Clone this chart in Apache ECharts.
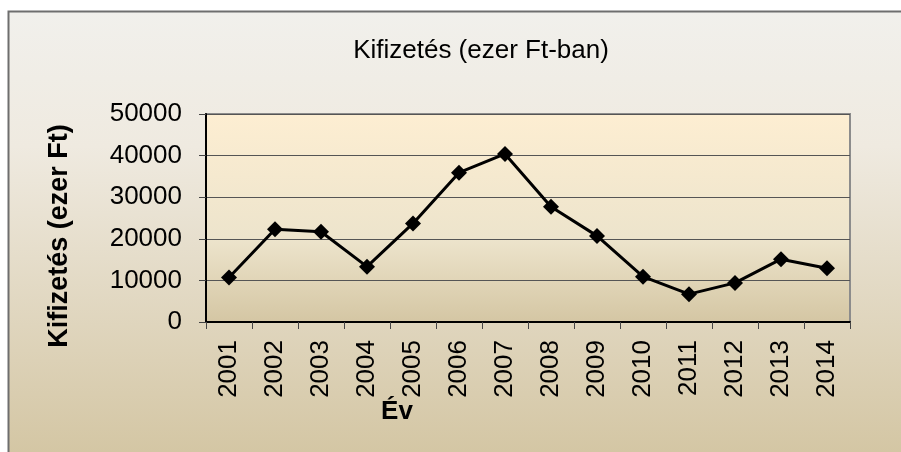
<!DOCTYPE html>
<html>
<head>
<meta charset="utf-8">
<style>html,body{margin:0;padding:0;background:#fff;}</style>
</head>
<body>
<div id="main" style="width:901px;height:452px;"></div>
<script src="https://cdn.jsdelivr.net/npm/echarts@6/dist/echarts.min.js"></script>
<script type="text/javascript">
    var years = ['2001', '2002', '2003', '2004', '2005', '2006', '2007', '2008', '2009', '2010', '2011', '2012', '2013', '2014'];
    var payments = [10700, 22300, 21700, 13300, 23700, 35900, 40400, 27700, 20700, 10900, 6700, 9400, 15100, 12900];
    var yTicks = [0, 10000, 20000, 30000, 40000, 50000];

    var myChart = echarts.init(document.getElementById('main'));

    var font = '"Liberation Sans", Arial, sans-serif';

    var option = {
        backgroundColor: '#fff',
        animation: false,
        textStyle: { fontFamily: font },
        graphic: [{
            type: 'rect',
            z: -10,
            shape: { x: 8.5, y: 11.5, width: 900, height: 450 },
            style: {
                fill: new echarts.graphic.LinearGradient(0, 0, 0, 1, [
                    { offset: 0, color: '#f1f0ec' },
                    { offset: 0.3, color: '#efeae0' },
                    { offset: 1, color: '#d3c5a2' }
                ]),
                stroke: '#6e6e6e',
                lineWidth: 2
            }
        }, {
            type: 'text',
            x: 397,
            y: 412,
            style: {
                text: 'Év',
                font: 'bold 26px ' + font,
                fill: '#000',
                textAlign: 'center',
                textVerticalAlign: 'middle'
            }
        }, {
            type: 'text',
            x: 60,
            y: 236,
            rotation: Math.PI / 2,
            style: {
                text: 'Kifizetés (ezer Ft)',
                font: 'bold 27px ' + font,
                fill: '#000',
                textAlign: 'center',
                textVerticalAlign: 'middle'
            }
        }],
        title: {
            text: 'Kifizetés (ezer Ft-ban)',
            left: 476,
            top: 33,
            textAlign: 'center',
            textStyle: {
                fontSize: 26,
                fontWeight: 'normal',
                color: '#000',
                fontFamily: font
            }
        },
        grid: {
            left: 206,
            top: 114,
            right: 51,
            bottom: 130,
            show: true,
            borderColor: '#8c8c8c',
            borderWidth: 2,
            backgroundColor: new echarts.graphic.LinearGradient(0, 0, 0, 1, [
                { offset: 0, color: '#fdeed2' },
                { offset: 0.6, color: '#ede4cc' },
                { offset: 1, color: '#d4c6a3' }
            ])
        },
        xAxis: {
            type: 'category',
            data: years,
            boundaryGap: true,
            axisLine: { lineStyle: { color: '#000', width: 2 } },
            axisTick: { show: true, length: 7, lineStyle: { color: '#444' } },
            axisLabel: {
                rotate: 90,
                fontSize: 26,
                color: '#000',
                margin: 18
            },
            splitLine: { show: false }
        },
        yAxis: {
            type: 'value',
            min: yTicks[0],
            max: yTicks[yTicks.length - 1],
            interval: 10000,
            axisLine: { show: true, lineStyle: { color: '#000', width: 2 } },
            axisTick: { show: true, length: 7, lineStyle: { color: '#444' } },
            axisLabel: {
                fontSize: 26,
                color: '#000',
                margin: 24,
                formatter: function (v) { return String(v); }
            },
            splitLine: { lineStyle: { color: '#555', width: 1 } }
        },
        series: [{
            name: 'Kifizetés',
            type: 'line',
            data: payments,
            symbol: 'diamond',
            symbolSize: 16,
            itemStyle: { color: '#000' },
            lineStyle: { color: '#000', width: 3 }
        }]
    };

    myChart.setOption(option);
</script>
</body>
</html>
